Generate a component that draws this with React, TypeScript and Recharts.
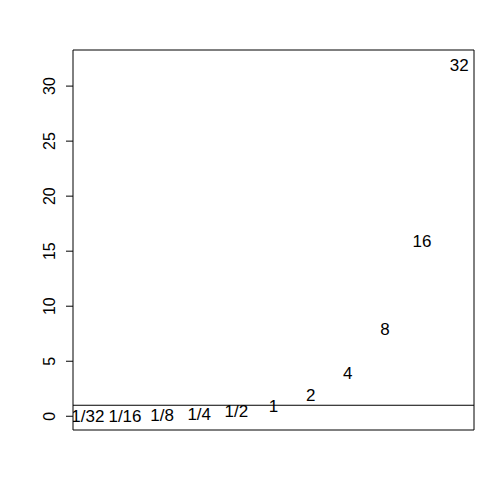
import { ScatterChart, Scatter, XAxis, YAxis, ReferenceLine, ReferenceArea } from 'recharts'

const labels = ['1/32', '1/16', '1/8', '1/4', '1/2', '1', '2', '4', '8', '16', '32']
const values = [0.03125, 0.0625, 0.125, 0.25, 0.5, 1, 2, 4, 8, 16, 32]
const yTicks = [0, 5, 10, 15, 20, 25, 30]

const FONT = '"Liberation Sans", Arial, Helvetica, sans-serif'

const data = labels.map((label, i) => ({ x: i + 1, y: values[i], label }))

const LabelShape = (props: any) => {
  const { cx, cy, payload } = props
  return (
    <text
      x={cx}
      y={cy + 1}
      textAnchor="middle"
      dominantBaseline="central"
      fontSize={17}
      fontFamily={FONT}
      fill="#000"
    >
      {payload.label}
    </text>
  )
}

const RotatedTick = (props: any) => {
  const { x, y, payload } = props
  return (
    <text
      x={0}
      y={0}
      transform={`translate(${x},${y}) rotate(-90)`}
      textAnchor="middle"
      fontSize={16}
      fontFamily={FONT}
      fill="#000"
    >
      {payload.value}
    </text>
  )
}

export default function App() {
  return (
    <div style={{ position: 'absolute', left: 0, top: 0, background: '#fff' }}>
      <ScatterChart width={504} height={504} margin={{ top: 50, right: 30, bottom: 74, left: 0 }}>
        <XAxis type="number" dataKey="x" domain={[0.6, 11.4]} hide allowDataOverflow />
        <YAxis
          type="number"
          dataKey="y"
          domain={[-1.248, 33.28]}
          ticks={yTicks}
          allowDataOverflow
          width={73}
          axisLine={false}
          tickSize={7}
          tickMargin={11}
          tickLine={{ stroke: '#000' }}
          tick={<RotatedTick />}
          interval={0}
        />
        <ReferenceArea
          x1={0.6}
          x2={11.4}
          y1={-1.248}
          y2={33.28}
          fill="none"
          fillOpacity={0}
          stroke="#000"
          strokeOpacity={1}
          ifOverflow="visible"
        />
        <ReferenceLine y={1} stroke="#000" ifOverflow="visible" />
        <Scatter data={data} shape={<LabelShape />} isAnimationActive={false} />
      </ScatterChart>
    </div>
  )
}
